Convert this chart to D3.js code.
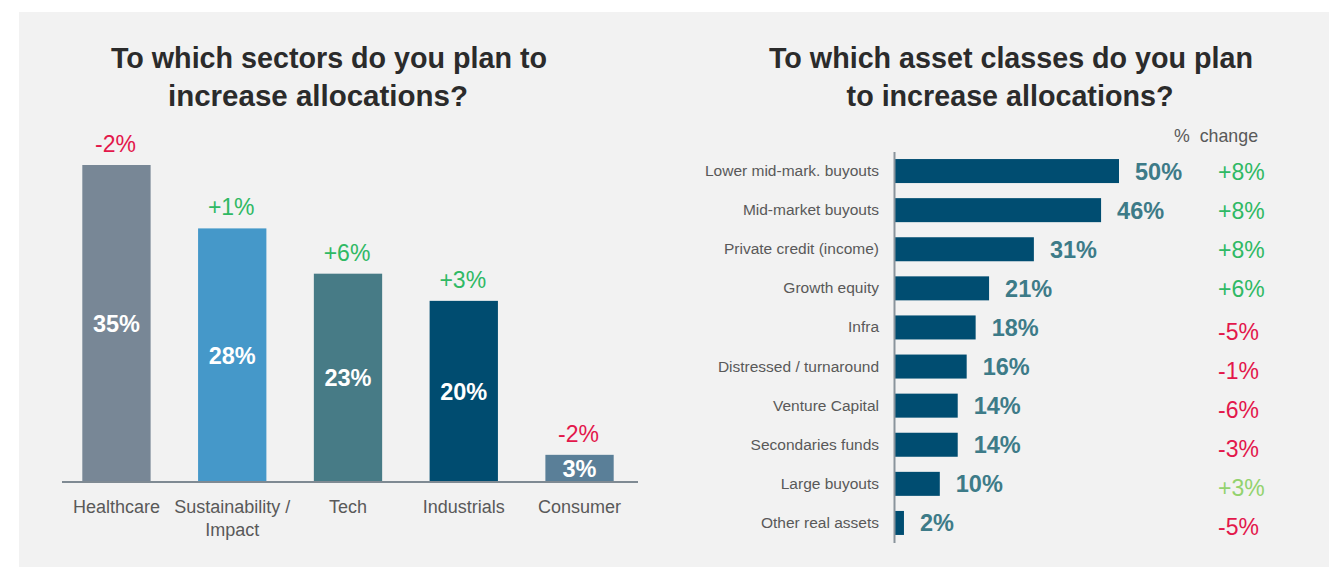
<!DOCTYPE html>
<html>
<head>
<meta charset="utf-8">
<script src="https://cdn.jsdelivr.net/npm/d3@7"></script>
<style>
  html, body { margin: 0; padding: 0; background: #ffffff; }
  svg { display: block; font-family: "Liberation Sans", Arial, Helvetica, sans-serif; }
</style>
</head>
<body>
<svg id="chart" width="1329" height="567"></svg>
<script>
// Sector allocations (left panel)
const sectors = ["Healthcare", "Sustainability / Impact", "Tech", "Industrials", "Consumer"];
const sectorLabelLines = [["Healthcare"], ["Sustainability /", "Impact"], ["Tech"], ["Industrials"], ["Consumer"]];
const sectorValues = [35, 28, 23, 20, 3];
const sectorChanges = [-2, 1, 6, 3, -2];
const sectorColors = ["#788796", "#4598c9", "#477b86", "#004c70", "#5a7f98"];

// Asset class allocations (right panel)
const assetClasses = [
  "Lower mid-mark. buyouts", "Mid-market buyouts", "Private credit (income)",
  "Growth equity", "Infra", "Distressed / turnaround", "Venture Capital",
  "Secondaries funds", "Large buyouts", "Other real assets"
];
const assetValues = [50, 46, 31, 21, 18, 16, 14, 14, 10, 2];
const assetChanges = [8, 8, 8, 6, -5, -1, -6, -3, 3, -5];

const RED = "#e3174b";
const GREEN = "#2fb964";
const LIGHT_GREEN = "#93d26e";
const fmtChange = v => (v > 0 ? "+" : "") + v + "%";

const svg = d3.select("#chart");

// panel background
svg.append("rect").attr("x", 19).attr("y", 12).attr("width", 1310).attr("height", 555).attr("fill", "#f2f2f2");

// ---------- Left: vertical bars ----------
const left = svg.append("g");
const xL = d3.scaleBand().domain(sectors).range([58, 638]).paddingInner(0.41).paddingOuter(0.21);
const yL = d3.scaleLinear().domain([0, 35]).range([482, 165]);

left.append("g").selectAll("text").data(["To which sectors do you plan to", "increase allocations?"])
  .join("text")
  .attr("x", (d, i) => i === 0 ? 329 : 318)
  .attr("y", (d, i) => 68 + i * 38)
  .attr("text-anchor", "middle")
  .attr("font-size", (d, i) => i === 0 ? 28.7 : 29.5).attr("font-weight", "bold").attr("fill", "#2b2b2b")
  .text(d => d);

left.selectAll("rect.bar").data(sectors).join("rect")
  .attr("class", "bar")
  .attr("x", d => xL(d))
  .attr("width", xL.bandwidth())
  .attr("y", (d, i) => yL(sectorValues[i]))
  .attr("height", (d, i) => yL(0) - yL(sectorValues[i]))
  .attr("fill", (d, i) => sectorColors[i]);

// baseline
const xAxisL = d3.axisBottom(xL).tickSize(0).tickFormat("");
left.append("g").attr("transform", `translate(0,${yL(0)})`).call(xAxisL)
  .call(g => g.select(".domain").attr("stroke", "#7f8a93").attr("stroke-width", 2).attr("d", "M62,0H638"));

// value labels inside bars
left.selectAll("text.val").data(sectors).join("text")
  .attr("class", "val")
  .attr("x", d => xL(d) + xL.bandwidth() / 2)
  .attr("y", (d, i) => (yL(sectorValues[i]) + yL(0)) / 2 + 8.5)
  .attr("text-anchor", "middle")
  .attr("font-size", 23.5).attr("font-weight", "bold").attr("fill", "#ffffff")
  .text((d, i) => sectorValues[i] + "%");

// change labels above bars
left.selectAll("text.chg").data(sectors).join("text")
  .attr("class", "chg")
  .attr("x", d => xL(d) + xL.bandwidth() / 2 - 1)
  .attr("y", (d, i) => yL(sectorValues[i]) - 13)
  .attr("text-anchor", "middle")
  .attr("font-size", 23).attr("fill", (d, i) => sectorChanges[i] < 0 ? RED : GREEN)
  .text((d, i) => fmtChange(sectorChanges[i]));

// category labels
left.selectAll("text.cat").data(sectors).join("text")
  .attr("class", "cat")
  .attr("x", d => xL(d) + xL.bandwidth() / 2)
  .attr("y", 513)
  .attr("text-anchor", "middle")
  .attr("font-size", 18).attr("fill", "#595959")
  .each(function (d, i) {
    d3.select(this).selectAll("tspan").data(sectorLabelLines[i]).join("tspan")
      .attr("x", xL(d) + xL.bandwidth() / 2)
      .attr("dy", (t, j) => j === 0 ? 0 : 23)
      .text(t => t);
  });

// ---------- Right: horizontal bars ----------
const right = svg.append("g");
const yR = d3.scaleBand().domain(assetClasses).range([151.5, 542.5]).paddingInner(0.386).paddingOuter(0.193);
const xR = d3.scaleLinear().domain([0, 50]).range([895, 1119]);

right.append("g").selectAll("text").data(["To which asset classes do you plan", "to increase allocations?"])
  .join("text")
  .attr("x", (d, i) => i === 0 ? 1011 : 1010)
  .attr("y", (d, i) => 68 + i * 38)
  .attr("text-anchor", "middle")
  .attr("font-size", 28.7).attr("font-weight", "bold").attr("fill", "#2b2b2b")
  .text(d => d);

right.append("text")
  .attr("x", 1174).attr("y", 142)
  .attr("font-size", 17.8).attr("fill", "#595959")
  .attr("xml:space", "preserve")
  .text("%  change");

right.selectAll("rect.bar").data(assetClasses).join("rect")
  .attr("class", "bar")
  .attr("x", xR(0))
  .attr("y", d => yR(d))
  .attr("height", yR.bandwidth())
  .attr("width", (d, i) => xR(assetValues[i]) - xR(0))
  .attr("fill", "#004d71");

// vertical axis with category labels
const yAxisR = d3.axisLeft(yR).tickSize(0).tickPadding(15);
right.append("g").attr("transform", `translate(${xR(0) - 1},0)`).call(yAxisR)
  .call(g => g.select(".domain").attr("stroke", "#8a949c").attr("stroke-width", 2))
  .call(g => g.selectAll(".tick text").attr("font-size", 15.5).attr("fill", "#595959")
    .attr("font-family", "'Liberation Sans', Arial, sans-serif"));

right.selectAll("text.val").data(assetClasses).join("text")
  .attr("class", "val")
  .attr("x", (d, i) => xR(assetValues[i]) + 16)
  .attr("y", d => yR(d) + yR.bandwidth() / 2 + 8.5)
  .attr("font-size", 23.5).attr("font-weight", "bold").attr("fill", "#3d7b88")
  .text((d, i) => assetValues[i] + "%");

right.selectAll("text.chg").data(assetClasses).join("text")
  .attr("class", "chg")
  .attr("x", 1218)
  .attr("y", (d, i) => yR(d) + yR.bandwidth() / 2 + 8.5 + (i >= 4 ? 4 : 0))
  .attr("font-size", 23)
  .attr("fill", (d, i) => assetChanges[i] < 0 ? RED : (i === 8 ? LIGHT_GREEN : GREEN))
  .text((d, i) => fmtChange(assetChanges[i]));
</script>
</body>
</html>
